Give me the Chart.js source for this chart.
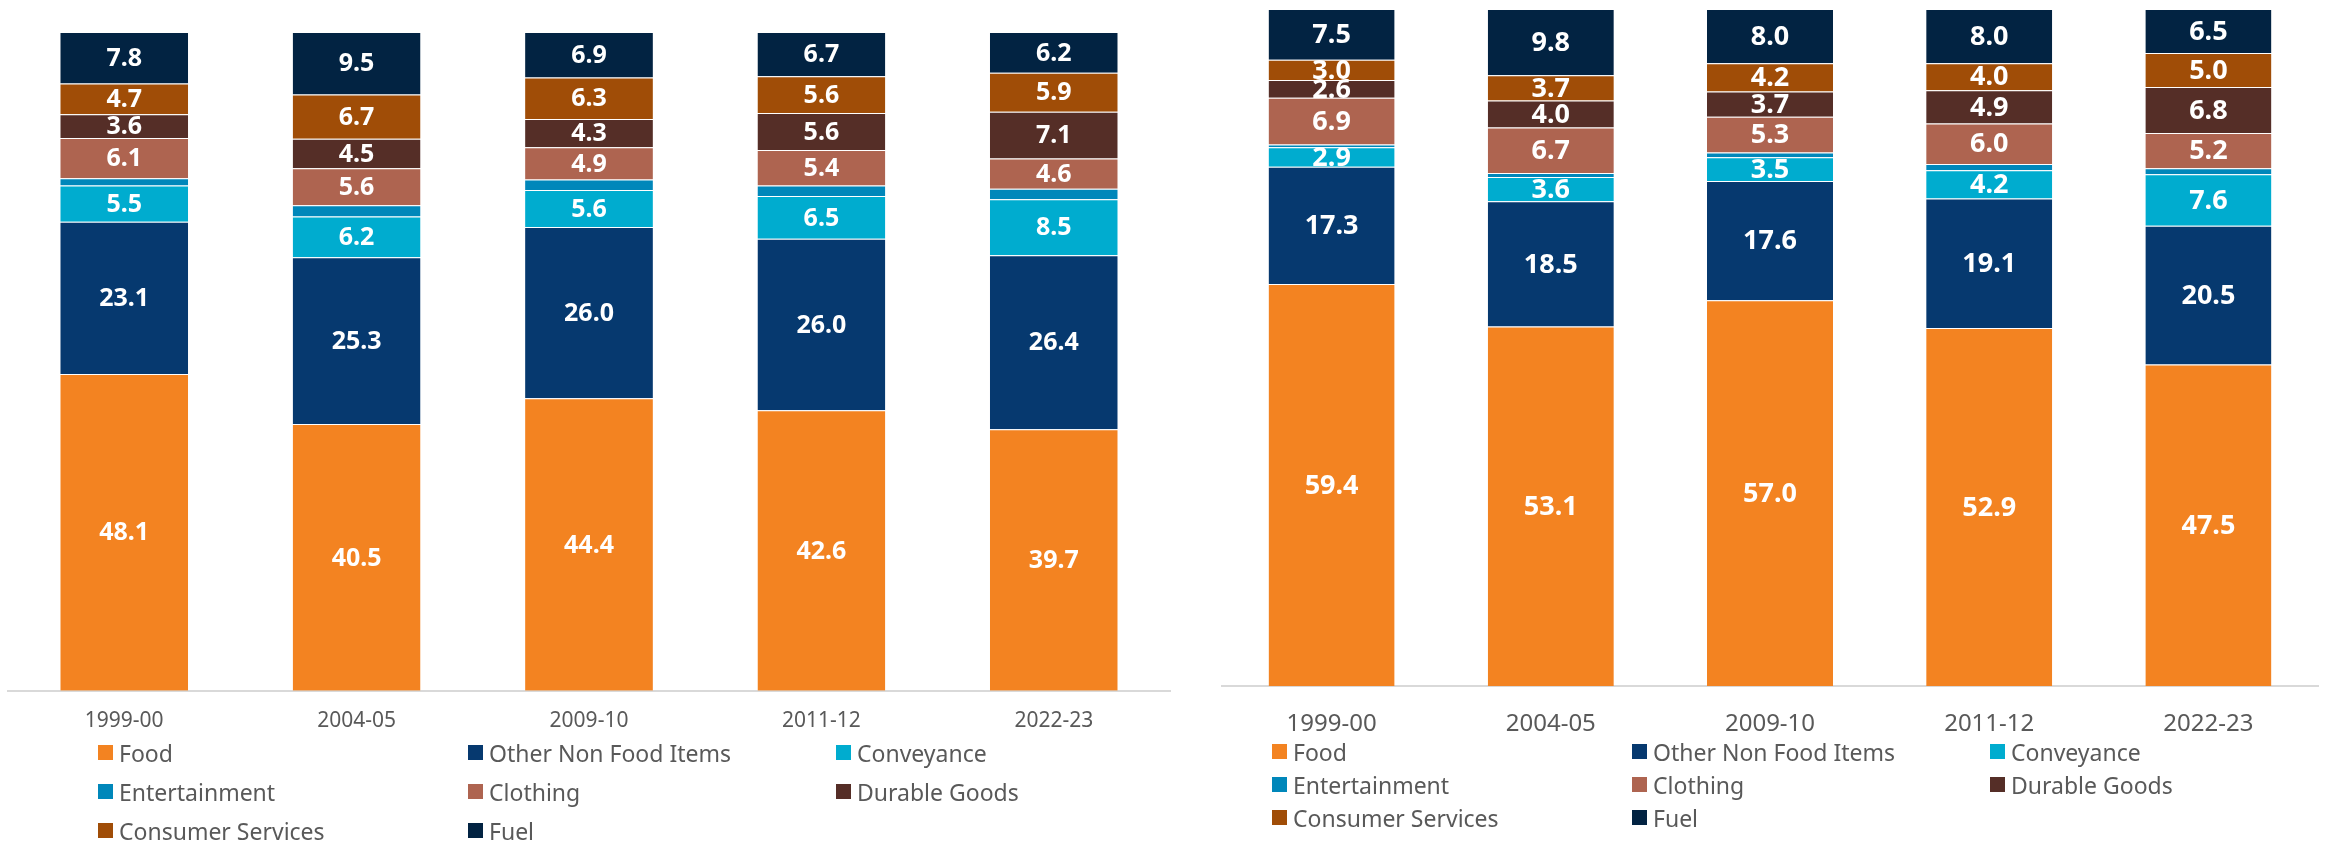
<!DOCTYPE html>
<html>
<head>
<meta charset="utf-8">
<script src="https://cdn.jsdelivr.net/npm/chart.js@4/dist/chart.umd.min.js"></script>
<style>
    body { margin: 0; background: #fff; width: 2331px; height: 842px; position: relative; overflow: hidden; font-family: "Noto Sans", sans-serif; }
    .chart-box { position: absolute; top: 0; }
    .legend { position: absolute; display: grid; color: #595959; }
    .legend .item { display: flex; align-items: center; white-space: nowrap; }
    .legend .swatch { width: 15px; height: 15px; margin-right: 6px; flex: none; }
</style>
</head>
<body>

<div class="chart-box" style="left:0; width:1180px;"><canvas id="leftChart" width="1180" height="764"></canvas></div>
<div class="chart-box" style="left:1215px; width:1116px;"><canvas id="rightChart" width="1116" height="772"></canvas></div>

<div id="leftLegend" class="legend" style="left:98px; top:733px; grid-template-columns:370px 368px 300px; grid-auto-rows:39px; font-size:23px;"></div>
<div id="rightLegend" class="legend" style="left:1272px; top:735px; grid-template-columns:360px 358px 300px; grid-auto-rows:33px; font-size:23px;"></div>

<script>
/* ================= DATA ================= */
const years = ["1999-00", "2004-05", "2009-10", "2011-12", "2022-23"];

const categories = [
    "Food", "Other Non Food Items", "Conveyance", "Entertainment",
    "Clothing", "Durable Goods", "Consumer Services", "Fuel"
];

const colors = [
    "#F38321", "#06396F", "#00ACCF", "#0087BA",
    "#AE6450", "#552E27", "#A04D07", "#022342"
];

// left chart
const leftFood        = [48.1, 40.5, 44.4, 42.6, 39.7];
const leftOtherNonFood = [23.1, 25.3, 26.0, 26.0, 26.4];
const leftConveyance  = [5.5, 6.2, 5.6, 6.5, 8.5];
const leftEntertain   = [1.1, 1.7, 1.6, 1.6, 1.6];
const leftClothing    = [6.1, 5.6, 4.9, 5.4, 4.6];
const leftDurable     = [3.6, 4.5, 4.3, 5.6, 7.1];
const leftServices    = [4.7, 6.7, 6.3, 5.6, 5.9];
const leftFuel        = [7.8, 9.5, 6.9, 6.7, 6.2];

// right chart
const rightFood        = [59.4, 53.1, 57.0, 52.9, 47.5];
const rightOtherNonFood = [17.3, 18.5, 17.6, 19.1, 20.5];
const rightConveyance  = [2.9, 3.6, 3.5, 4.2, 7.6];
const rightEntertain   = [0.4, 0.6, 0.7, 0.9, 0.9];
const rightClothing    = [6.9, 6.7, 5.3, 6.0, 5.2];
const rightDurable     = [2.6, 4.0, 3.7, 4.9, 6.8];
const rightServices    = [3.0, 3.7, 4.2, 4.0, 5.0];
const rightFuel        = [7.5, 9.8, 8.0, 8.0, 6.5];

const leftSeries = [leftFood, leftOtherNonFood, leftConveyance, leftEntertain,
                    leftClothing, leftDurable, leftServices, leftFuel];
const rightSeries = [rightFood, rightOtherNonFood, rightConveyance, rightEntertain,
                     rightClothing, rightDurable, rightServices, rightFuel];

/* ================= VALUE LABELS ================= */
const valueLabels = {
    id: "valueLabels",
    afterDatasetsDraw(chart, args, opts) {
        const ctx = chart.ctx;
        ctx.save();
        ctx.fillStyle = "#fff";
        ctx.font = `bold ${opts.size}px "Noto Sans"`;
        ctx.textAlign = "center";
        ctx.textBaseline = "middle";
        chart.data.datasets.forEach((ds, i) => {
            if (ds.label === "Entertainment") return;
            chart.getDatasetMeta(i).data.forEach((bar, j) => {
                const p = bar.getProps(["x", "y", "base"], true);
                ctx.fillText(ds.data[j].toFixed(1), p.x, (p.y + p.base) / 2 + 1);
            });
        });
        ctx.restore();
    }
};

/* ================= CHART BUILDER ================= */
function makeChart(id, series, o) {
    return new Chart(document.getElementById(id), {
        type: "bar",
        data: {
            labels: years,
            datasets: series.map((data, i) => ({
                label: categories[i],
                data: data,
                backgroundColor: colors[i],
                borderColor: "rgba(255,255,255,0.35)",
                borderWidth: { top: 1, bottom: 0, left: 0, right: 0 },
                borderSkipped: false,
                categoryPercentage: 1,
                barPercentage: o.barPct
            }))
        },
        options: {
            responsive: false,
            animation: false,
            layout: { padding: o.padding },
            plugins: {
                legend: { display: false },
                tooltip: { enabled: false },
                valueLabels: { size: o.labelSize }
            },
            scales: {
                x: {
                    stacked: true,
                    grid: { display: false, drawTicks: false },
                    border: { display: true, color: "#D9D9D9", width: 2 },
                    ticks: {
                        color: "#595959",
                        padding: o.tickPad,
                        font: { family: "Noto Sans", size: o.tickSize }
                    }
                },
                y: { stacked: true, display: false, min: 0, max: 100 }
            }
        },
        plugins: [valueLabels]
    });
}

function buildLegend(id) {
    const el = document.getElementById(id);
    el.innerHTML = categories.map((c, i) =>
        `<div class="item"><span class="swatch" style="background:${colors[i]}"></span>${c}</div>`
    ).join("");
}

/* ================= INIT ================= */
makeChart("leftChart", leftSeries, {
    barPct: 0.55, labelSize: 25, tickSize: 21, tickPad: 18,
    padding: { top: 32, left: 8, right: 10, bottom: 12 }
});
makeChart("rightChart", rightSeries, {
    barPct: 0.575, labelSize: 27, tickSize: 24, tickPad: 24,
    padding: { top: 9, left: 7, right: 13, bottom: 9 }
});

buildLegend("leftLegend");
buildLegend("rightLegend");
</script>
</body>
</html>
